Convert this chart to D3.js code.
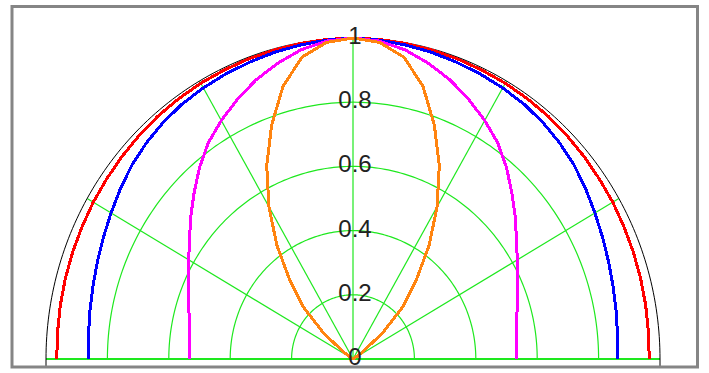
<!DOCTYPE html>
<html>
<head>
<meta charset="utf-8">
<script src="https://cdnjs.cloudflare.com/ajax/libs/d3/7.8.5/d3.min.js"></script>
<style>
  body { margin: 0; background: #fff; }
  .tickLabel {
    font-family: "Liberation Sans", Arial, sans-serif;
    font-size: 24px;
    fill: #222;
    text-anchor: middle;
  }
</style>
</head>
<body>
<div id="polar"></div>
<script>
// angle from the vertical axis (degrees), one half; the other half is mirrored
var angles = [0, 5, 10, 15, 20, 25, 30, 35, 40, 45, 50, 55, 60, 65, 70, 75, 80, 85, 90];

// relative intensity
var redValues     = [1.000, 0.999, 0.998, 0.996, 0.995, 0.993, 0.992, 0.990, 0.988, 0.985, 0.982, 0.979, 0.977, 0.974, 0.972, 0.970, 0.968, 0.966, 0.965];
var blueValues    = [1.000, 0.997, 0.993, 0.989, 0.984, 0.980, 0.975, 0.970, 0.962, 0.952, 0.940, 0.925, 0.910, 0.897, 0.886, 0.877, 0.870, 0.865, 0.862];
var magentaValues = [1.000, 0.994, 0.978, 0.953, 0.925, 0.892, 0.858, 0.822, 0.778, 0.732, 0.690, 0.650, 0.618, 0.592, 0.570, 0.553, 0.542, 0.536, 0.534];
var orangeValues  = [1.000, 0.990, 0.955, 0.880, 0.775, 0.665, 0.548, 0.432, 0.320, 0.228, 0.125, 0.035, 0.000, 0.000, 0.000, 0.000, 0.000, 0.000, 0.000];

var ringValues = [0.2, 0.4, 0.6, 0.8];
var tickValues = [0, 0.2, 0.4, 0.6, 0.8, 1];
var tickLabels = ["0", "0.2", "0.4", "0.6", "0.8", "1"];
var spokeAngles = [-60, -30, 0, 30, 60];

var svgWidth = 709;
var svgHeight = 373;

var center = { x: 353, y: 359 };
var radiusX = 307;
var radiusY = 321;

var svg = d3.select("#polar")
  .append("svg")
  .attr("width", svgWidth)
  .attr("height", svgHeight);

var xScale = d3.scaleLinear()
  .domain([-1, 1])
  .range([center.x - radiusX, center.x + radiusX]);

var yScale = d3.scaleLinear()
  .domain([0, 1])
  .range([center.y, center.y - radiusY]);

// polar -> screen, angle measured from the top
function toXY(theta, r) {
  var a = theta * Math.PI / 180;
  return [xScale(r * Math.sin(a)), yScale(r * Math.cos(a))];
}

var line = d3.line();

// full -90..90 series from the half table
function mirrored(values) {
  var pts = [];
  for (var i = angles.length - 1; i >= 0; i--) pts.push(toXY(-angles[i], values[i]));
  for (var j = 1; j < angles.length; j++) pts.push(toXY(angles[j], values[j]));
  return pts;
}

function ring(r) {
  return d3.range(-90, 90.5, 1).map(function(t) { return toXY(t, r); });
}

// green grid
var grid = svg.append("g")
  .attr("fill", "none")
  .attr("stroke", "#1ee81e");

grid.selectAll(".ring")
  .data(ringValues)
  .enter()
  .append("path")
  .attr("class", "ring")
  .attr("stroke-width", 1.2)
  .attr("d", function(d) { return line(ring(d)); });

grid.selectAll(".spoke")
  .data(spokeAngles)
  .enter()
  .append("path")
  .attr("class", "spoke")
  .attr("stroke-width", 1.2)
  .attr("d", function(d) { return line([toXY(d, 0), toXY(d, 1)]); });

grid.append("line")
  .attr("x1", xScale(-1))
  .attr("x2", xScale(1))
  .attr("y1", center.y)
  .attr("y2", center.y)
  .attr("stroke-width", 2);

// outer black circle
var outer = ring(1);
outer.unshift([xScale(-1), center.y + 8]);
outer.push([xScale(1), center.y + 8]);
svg.append("path")
  .attr("fill", "none")
  .attr("stroke", "#000")
  .attr("stroke-width", 1)
  .attr("d", line(outer));

// the four patterns
var series = [
  { values: redValues, color: "#ff0000" },
  { values: blueValues, color: "#0000ff" },
  { values: magentaValues, color: "#ff00ff" },
  { values: orangeValues, color: "#ff8410" }
];

svg.append("g")
  .selectAll("path")
  .data(series)
  .enter()
  .append("path")
  .attr("fill", "none")
  .attr("stroke", function(d) { return d.color; })
  .attr("stroke-width", 3)
  .attr("stroke-linejoin", "round")
  .attr("shape-rendering", "crispEdges")
  .attr("d", function(d) { return line(mirrored(d.values)); });

// radius labels on the vertical axis
svg.append("g")
  .selectAll("text")
  .data(tickValues)
  .enter()
  .append("text")
  .attr("class", "tickLabel")
  .attr("x", center.x + 2)
  .attr("y", function(d) { return yScale(d) + 6; })
  .text(function(d, i) { return tickLabels[i]; });

// frame
svg.append("rect")
  .attr("x", 12)
  .attr("y", 6.5)
  .attr("width", 685.5)
  .attr("height", 360.5)
  .attr("fill", "none")
  .attr("stroke", "#858585")
  .attr("stroke-width", 3);
</script>
</body>
</html>
